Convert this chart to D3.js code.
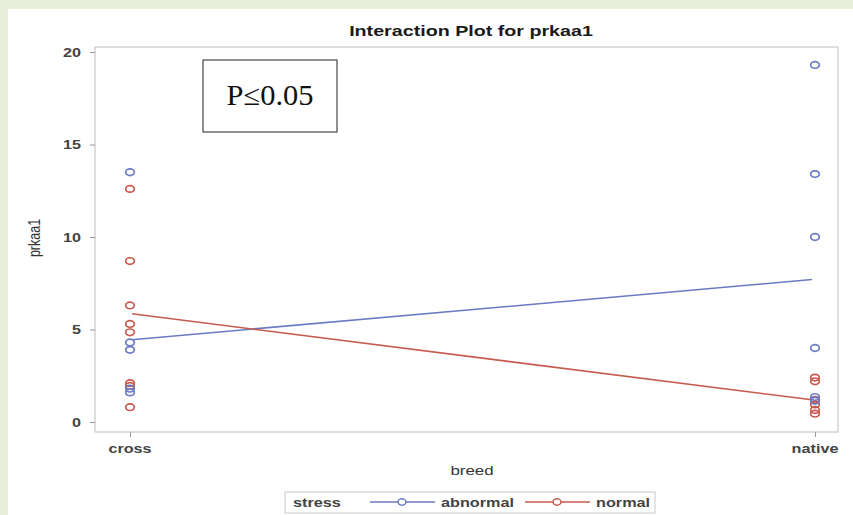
<!DOCTYPE html>
<html><head><meta charset="utf-8">
<script src="https://cdn.jsdelivr.net/npm/d3@7"></script>
<style>body{margin:0;background:#e7efdc;} svg{display:block;}</style>
</head><body>
<svg id="c" width="853" height="515"></svg>
<script>
const breeds = ["cross", "native"];
const yTicks = [0, 5, 10, 15, 20];
const stressLevels = ["abnormal", "normal"];
// observed points
const abnormalCross = [13.5, 4.3, 3.9, 1.8, 1.6];
const normalCross = [12.6, 8.7, 6.3, 5.3, 4.85, 2.1, 1.95, 0.8];
const abnormalNative = [19.3, 13.4, 10.0, 4.0, 1.35, 1.15];
const normalNative = [2.4, 2.2, 1.2, 0.95, 0.65, 0.45];
// fitted means (interaction lines)
const abnormalMeans = [4.45, 7.7];
const normalMeans = [5.85, 1.2];

const colors = {abnormal: "#6b7bc2", normal: "#c65a4e"};
const SX = 1.35; // horizontal stretch of the text in the reference
const svg = d3.select("#c");
svg.append("rect").attr("x", 8).attr("y", 9).attr("width", 845).attr("height", 506).attr("fill", "#fff");

const L = 95, R = 838, T = 47, B = 432;
const x = d3.scalePoint().domain(breeds).range([130, 815]);
const y = d3.scaleLinear().domain([0, 20]).range([422, 52]);

svg.append("rect").attr("x", L).attr("y", T).attr("width", R - L).attr("height", B - T)
  .attr("fill", "none").attr("stroke", "#c8c8c8").attr("stroke-width", 1.2);

const font = "'Liberation Sans', Arial, sans-serif";

function txt(px, py, s, size, anchor, opts = {}) {
  const t = svg.append("text")
    .attr("transform", `translate(${px},${py}) scale(${opts.sx || SX},1)`)
    .attr("text-anchor", anchor).attr("font-family", opts.family || font)
    .attr("font-size", size).attr("fill", opts.fill || "#2a2a2a")
    .attr("font-weight", opts.weight || "normal").text(s);
  return t;
}

// axes (ticks via d3 axes, labels stretched)
const yAxis = svg.append("g").attr("transform", `translate(${L},0)`)
  .call(d3.axisLeft(y).tickValues(yTicks).tickSize(5).tickFormat(""));
const xAxis = svg.append("g").attr("transform", `translate(0,${B})`)
  .call(d3.axisBottom(x).tickSize(5).tickFormat(""));
[yAxis, xAxis].forEach(a => {
  a.select(".domain").remove();
  a.selectAll("line").attr("stroke", "#999");
});
yTicks.forEach(v => txt(81, y(v) + 4.5, String(v), 12, "end", {weight: "bold", fill: "#444"}));
breeds.forEach(b => txt(x(b), 453, b, 12, "middle", {weight: "bold", fill: "#444"}));

txt(471, 36, "Interaction Plot for prkaa1", 15.5, "middle", {weight: "bold", sx: 1.27, fill: "#1a1a1a"});
txt(472, 475, "breed", 13, "middle", {sx: 1.3, fill: "#333"});
svg.append("text").attr("transform", "translate(40,238) rotate(-90) scale(1,1.25)").attr("text-anchor", "middle")
  .attr("font-family", font).attr("font-size", 12.5).attr("fill", "#333").text("prkaa1");

const line = d3.line().x((d, i) => x(breeds[i]) + (i === 0 ? 2 : -3)).y(d => y(d));
svg.append("path").attr("d", line(abnormalMeans)).attr("fill", "none").attr("stroke", colors.abnormal).attr("stroke-width", 1.6);
svg.append("path").attr("d", line(normalMeans)).attr("fill", "none").attr("stroke", colors.normal).attr("stroke-width", 1.6);

function pts(vals, breed, col) {
  svg.append("g").selectAll("ellipse").data(vals).join("ellipse")
    .attr("cx", x(breed)).attr("cy", d => y(d)).attr("rx", 4.3).attr("ry", 3.3)
    .attr("fill", "none").attr("stroke", col).attr("stroke-width", 1.7);
}
pts(normalCross, "cross", colors.normal);
pts(abnormalCross, "cross", colors.abnormal);
pts(normalNative, "native", colors.normal);
pts(abnormalNative, "native", colors.abnormal);

// legend
svg.append("rect").attr("x", 285).attr("y", 492).attr("width", 370).attr("height", 21)
  .attr("fill", "#fff").attr("stroke", "#c8c8c8");
txt(293, 507, "stress", 12.5, "start", {weight: "bold", sx: 1.3, fill: "#444"});
const legX = {abnormal: 370, normal: 525};
stressLevels.forEach(s => {
  const x0 = legX[s];
  svg.append("line").attr("x1", x0).attr("x2", x0 + 65).attr("y1", 502).attr("y2", 502).attr("stroke", colors[s]).attr("stroke-width", 1.4);
  svg.append("ellipse").attr("cx", x0 + 32).attr("cy", 502).attr("rx", 4).attr("ry", 3.2).attr("fill", "#fff").attr("stroke", colors[s]).attr("stroke-width", 1.5);
  txt(x0 + 71, 507, s, 12.5, "start", {weight: "bold", sx: 1.3, fill: "#444"});
});

// annotation
svg.append("rect").attr("x", 203).attr("y", 60).attr("width", 134).attr("height", 72)
  .attr("fill", "#fff").attr("stroke", "#222").attr("stroke-width", 1);
txt(270, 105, "P≤0.05", 29, "middle", {family: "'Liberation Serif', 'Times New Roman', serif", sx: 1.05, fill: "#111"});
</script>
</body></html>
